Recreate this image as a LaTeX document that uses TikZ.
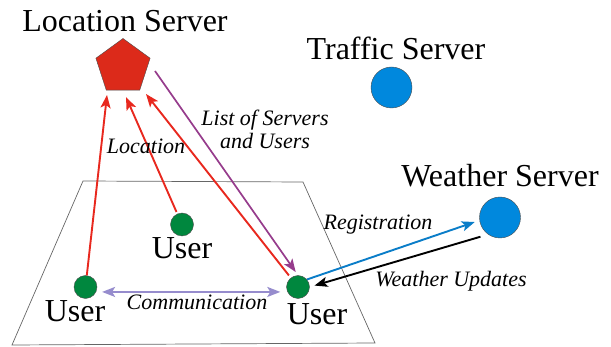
\documentclass[tikz,border=0pt]{standalone}
\usepackage{fontspec}
\setmainfont{Liberation Serif}
\usetikzlibrary{shapes.geometric,arrows.meta,calc}
\definecolor{pentred}{RGB}{220,42,26}
\definecolor{arrred}{RGB}{232,40,30}
\definecolor{arrpurple}{RGB}{150,60,140}
\definecolor{arrlav}{RGB}{150,140,205}
\definecolor{arrblue}{RGB}{10,125,200}
\definecolor{srvblue}{RGB}{0,136,221}
\definecolor{usrgreen}{RGB}{0,135,62}
\tikzset{
  big/.style={font=\fontsize{32}{36}\selectfont, anchor=base, inner sep=0pt},
  lbl/.style={font=\fontsize{22}{24}\selectfont\itshape, anchor=base, inner sep=0pt},
  usr/.style={circle, fill=usrgreen, draw=black!70, line width=0.4pt, minimum size=23pt, inner sep=0pt},
  srv/.style={circle, fill=srvblue, draw=black!70, line width=0.4pt, minimum size=41pt, inner sep=0pt},
  tip/.style={-{Stealth[length=13pt,width=10pt,inset=3pt]}},
  link/.style={line width=1.9pt, tip},
}
\begin{document}
\begin{tikzpicture}[x=1pt,y=-1pt]
\useasboundingbox (0,0) rectangle (611,347);
% ground plane
\draw[black!60, line width=0.7pt] (83,181) -- (303,182) -- (375,343) -- (12,345) -- cycle;
% servers
\node[regular polygon, regular polygon sides=5, minimum size=57pt, inner sep=0pt,
      fill=pentred, draw=black!70, line width=0.4pt] (ls) at (123,67) {};
\node[big] (lstxt) at (125,32) {Location Server};
\node[srv] (ts) at (391.5,87.5) {};
\node[big] (tstxt) at (396,60) {Traffic Server};
\node[srv] (ws) at (500,217.5) {};
\node[big] (wstxt) at (500,187) {Weather Server};
% users
\node[usr] (u1) at (85.5,287) {};
\node[usr] (u2) at (182,224.5) {};
\node[usr] (u3) at (298,287) {};
\node[big] (u1txt) at (75,322) {User};
\node[big] (u2txt) at (182,259) {User};
\node[big] (u3txt) at (317,325) {User};
% arrow tips near location server
\coordinate (t1) at (107,95);
\coordinate (t2) at (126,97);
\coordinate (t3) at (146,94);
\coordinate (p1) at (155,71);
% red location arrows
\draw[link, arrred] (u1) -- (t1);
\draw[link, arrred, shorten <=2pt] (u2) -- (t2);
\draw[link, arrred, shorten <=3pt] (u3) -- (t3);
% purple list arrow
\draw[link, arrpurple, line width=1.7pt, shorten >=4pt] (p1) -- (u3.north);
% registration and updates
\draw[link, arrblue, shorten >=5pt] (u3.40) -- (ws.188);
\draw[link, black, shorten <=8pt, shorten >=5pt] (ws.235) -- (u3.east);
% communication
\draw[line width=1.9pt, arrlav, {Stealth[length=13pt,width=10pt,inset=3pt]}-{Stealth[length=13pt,width=10pt,inset=3pt]}, shorten <=6pt, shorten >=6pt]
  (u1.-25) -- (u1.-25 -| u3.west);
% labels
\node[lbl] (loclbl) at (146,154) {Location};
\node[lbl] (lst1) at (265,126) {List of Servers};
\node[lbl] (lst2) at (265,149) {and Users};
\node[lbl] (reglbl) at (378,230) {Registration};
\node[lbl] (updlbl) at (451,287) {Weather Updates};
\node[lbl] (comlbl) at (197,310) {Communication};
\end{tikzpicture}
\end{document}
